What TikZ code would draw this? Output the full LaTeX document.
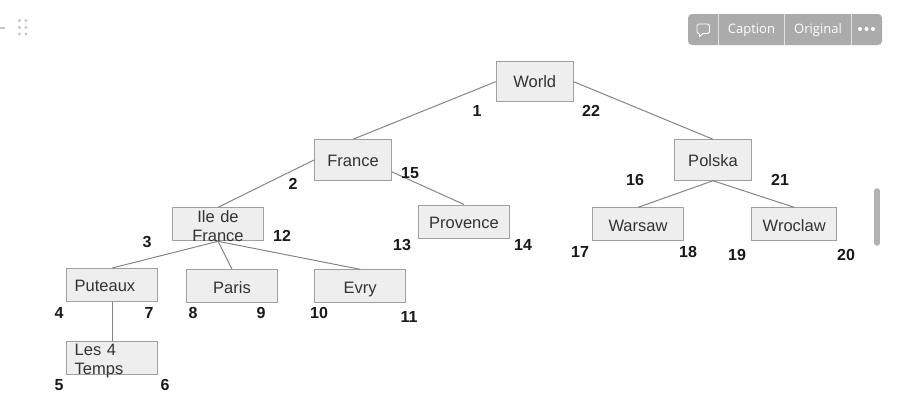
\documentclass[tikz,border=0pt]{standalone}
\usepackage{fontspec}
\setmainfont{Liberation Sans}
\newfontfamily\uifont{Open Sans}
\usetikzlibrary{calc}
\definecolor{boxfill}{HTML}{EEEEEE}
\definecolor{boxline}{HTML}{A0A0A0}
\definecolor{edgeline}{HTML}{858585}
\definecolor{barfill}{HTML}{ABABAB}
\begin{document}
\begin{tikzpicture}[
    x=1pt, y=-1pt,
    place/.style={draw=boxline, fill=boxfill, line width=1pt, align=center, inner sep=0pt, text=black!80, font=\fontsize{16.5}{19.5}\selectfont, minimum height=33pt, text width=91pt, minimum width=91pt, text height=13.4pt, text depth=0pt},
    wide/.style={place, minimum height=40.5pt, text width=77pt, minimum width=77pt, text height=12pt},
    flush/.style={place, text width=75pt, align=left},
    twolines/.style={text height=0pt, text depth=#1},
    edge/.style={draw=edgeline, line width=1pt},
    num/.style={inner sep=0pt, font=\fontsize{16}{16}\selectfont\bfseries, text=black!90},
    toolbtn/.style={inner sep=0pt, text=white, font=\uifont\fontsize{13}{15}\selectfont},
    toolsep/.style={draw=white!65!barfill, line width=0.7pt},
]
\useasboundingbox (0,0) rectangle (905,415);

% --- places ---
\node[wide] (world) at (534.7,81.7) {World};
\node[wide] (france) at (353,160) {France};
\node[wide] (polska) at (713,160) {Polska};
\node[place, twolines=4.6pt] (iledefrance) at (218,224.3) {Ile de\\France};
\node[place] (provence) at (464,221.5) {Provence};
\node[place] (warsaw) at (638,224.3) {Warsaw};
\node[place, minimum width=85pt, text width=85pt] (wroclaw) at (794.2,224.3) {Wroclaw};
\node[flush] (puteaux) at (112.2,285) {Puteaux};
\node[place] (paris) at (232,286.3) {Paris};
\node[place] (evry) at (360,286.3) {Evry};
\node[flush, twolines=5.6pt] (les4temps) at (112.2,357.8) {Les 4\\Temps};

% --- edges ---
\draw[edge] (world.west) -- (france.north);
\draw[edge] (world.east) -- (polska.north);
\draw[edge] (france.west) -- (iledefrance.north);
\draw[edge] (france.-17) -- (provence.north);
\draw[edge] (polska.south) -- (warsaw.north);
\draw[edge] (polska.south) -- (wroclaw.north);
\draw[edge] (iledefrance.south) -- (puteaux.north);
\draw[edge] (iledefrance.south) -- (paris.north);
\draw[edge] (iledefrance.south) -- (evry.north);
\draw[edge] (puteaux.south) -- (les4temps.north);

% --- visit numbers ---
\node[num] (n1) at (477,111) {1};
\node[num] (n2) at (293,184) {2};
\node[num] (n3) at (147,242) {3};
\node[num] (n4) at (59,313) {4};
\node[num] (n5) at (59,385) {5};
\node[num] (n6) at (165,385) {6};
\node[num] (n7) at (149,313) {7};
\node[num] (n8) at (193,313) {8};
\node[num] (n9) at (261,313) {9};
\node[num] (n10) at (319,313) {10};
\node[num] (n11) at (409,317) {11};
\node[num] (n12) at (282,236) {12};
\node[num] (n13) at (402,245) {13};
\node[num] (n14) at (523,245) {14};
\node[num] (n15) at (410,173) {15};
\node[num] (n16) at (635,180) {16};
\node[num] (n17) at (580,252) {17};
\node[num] (n18) at (688,252) {18};
\node[num] (n19) at (737,255) {19};
\node[num] (n20) at (846,255) {20};
\node[num] (n21) at (780,180) {21};
\node[num] (n22) at (591,111) {22};

% --- toolbar ---
\fill[barfill, rounded corners=4pt] (688,14) rectangle (882,45);
\draw[toolsep] (718.5,14) -- (718.5,45);
\draw[toolsep] (784.5,14) -- (784.5,45);
\draw[toolsep] (851.5,14) -- (851.5,45);
\draw[white, line width=0.9pt, rounded corners=1.5pt] (697,24) rectangle (709.5,33.5);
\fill[barfill] (699,33) rectangle (703,35);
\draw[white, line width=0.9pt] (699.5,33.5) -- (699.5,36.5) -- (703,33.5);
\node[toolbtn] (caption) at (751.5,30) {Caption};
\node[toolbtn] (original) at (818,30) {Original};
\foreach \x in {860,866.5,873}
    \fill[white] (\x,29) circle (2pt);

% --- handle and scroll bar ---
\draw[black!22, line width=1.5pt] (0,28) -- (5,28);
\foreach \x in {19.5,26}
    \foreach \y in {20.5,27.5,34}
        \fill[black!22] (\x,\y) circle (1.6pt);
\draw[black!30, line width=5.5pt, line cap=round] (877,191) -- (877,243);
\end{tikzpicture}
\end{document}
